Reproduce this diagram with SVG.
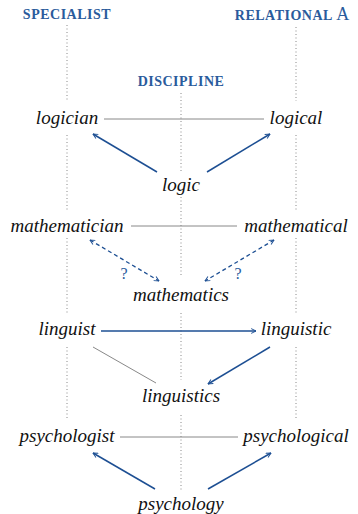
<svg xmlns="http://www.w3.org/2000/svg" width="358" height="514" viewBox="0 0 358 514">
<style>
.hd{font-family:"Liberation Serif","Times New Roman",serif;font-size:14px;font-weight:bold;letter-spacing:0.5px;fill:#2a5b9c;text-anchor:middle}
.w{font-family:"Liberation Serif","Times New Roman",serif;font-style:italic;font-size:19px;fill:#111;text-anchor:middle}
.q{font-family:"Liberation Serif","Times New Roman",serif;font-size:16px;fill:#2a5b9c;text-anchor:middle}
.dot{stroke:#888;stroke-width:1;stroke-dasharray:1 2.5;fill:none}
.gl{stroke:#888;stroke-width:1;fill:none}
.ar{stroke:#1d4f93;stroke-width:1.5;fill:none;marker-end:url(#ah)}
.da{stroke:#1d4f93;stroke-width:1.3;stroke-dasharray:4 3;fill:none;marker-end:url(#ah);marker-start:url(#ahs)}
</style>
<defs>
<marker id="ah" viewBox="0 0 10 10" refX="9" refY="5" markerWidth="6" markerHeight="6" markerUnits="userSpaceOnUse" orient="auto">
<path d="M1,1 L9,5 L1,9" fill="none" stroke="#1d4f93" stroke-width="1.6"/>
</marker>
<marker id="ahs" viewBox="0 0 10 10" refX="9" refY="5" markerWidth="6" markerHeight="6" markerUnits="userSpaceOnUse" orient="auto-start-reverse">
<path d="M1,1 L9,5 L1,9" fill="none" stroke="#1d4f93" stroke-width="1.6"/>
</marker>
</defs>
<g id="headers">
<text class="hd" x="67" y="19">SPECIALIST</text>
<text class="hd" x="181" y="86">DISCIPLINE</text>
<text class="hd" x="292" y="20">RELATIONAL <tspan style="font-size:18px;letter-spacing:0;font-weight:normal">A</tspan></text>
</g>
<g id="guides">
<path class="dot" d="M67,25V102M67,135V210M67,238V313M67,347V420"/>
<path class="dot" d="M181,93V172M181,197V277M181,313V380M181,415V490"/>
<path class="dot" d="M296,27V101M296,135V210M296,238V313M296,347V420"/>
</g>
<g id="connectors">
<line class="gl" x1="104" y1="119" x2="264" y2="119"/>
<line class="gl" x1="131" y1="226" x2="237" y2="226"/>
<line class="gl" x1="120" y1="437" x2="238" y2="437"/>
<line class="gl" x1="93" y1="347" x2="156" y2="383"/>
<line class="ar" x1="157" y1="172" x2="93" y2="134"/>
<line class="ar" x1="207" y1="172" x2="270" y2="134"/>
<line class="da" x1="90" y1="240" x2="159" y2="281"/>
<line class="da" x1="274" y1="240" x2="205" y2="281"/>
<line class="ar" x1="101" y1="331" x2="256" y2="331"/>
<line class="ar" x1="270" y1="347" x2="208" y2="384"/>
<line class="ar" x1="155" y1="489" x2="93" y2="453"/>
<line class="ar" x1="208" y1="489" x2="271" y2="453"/>
<text class="q" x="124" y="279">?</text>
<text class="q" x="238" y="279">?</text>
</g>
<g id="logician"><text class="w" x="67" y="124">logician</text></g>
<g id="logical"><text class="w" x="296" y="124">logical</text></g>
<g id="logic"><text class="w" x="181" y="191">logic</text></g>
<g id="mathematician"><text class="w" x="67" y="232">mathematician</text></g>
<g id="mathematical"><text class="w" x="296" y="232">mathematical</text></g>
<g id="mathematics"><text class="w" x="181" y="301">mathematics</text></g>
<g id="linguist"><text class="w" x="67" y="335">linguist</text></g>
<g id="linguistic"><text class="w" x="296" y="335">linguistic</text></g>
<g id="linguistics"><text class="w" x="181" y="402">linguistics</text></g>
<g id="psychologist"><text class="w" x="67" y="442">psychologist</text></g>
<g id="psychological"><text class="w" x="296" y="442">psychological</text></g>
<g id="psychology"><text class="w" x="181" y="510">psychology</text></g>
</svg>
